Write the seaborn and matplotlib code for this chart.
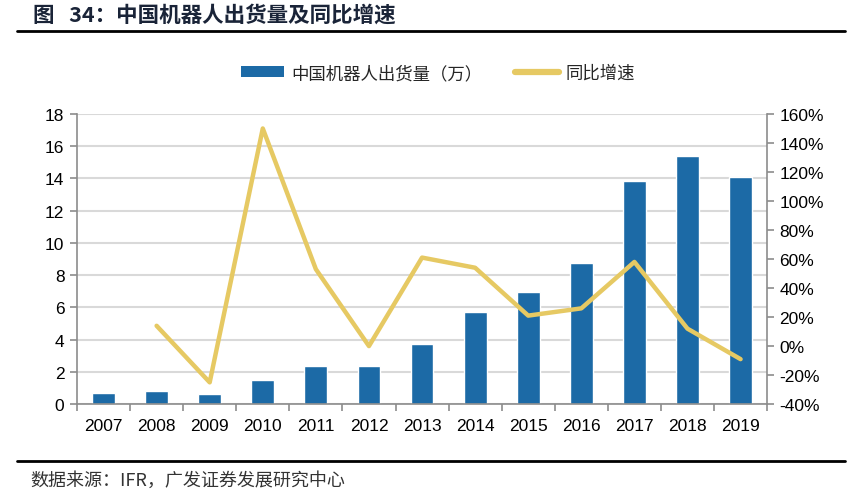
import numpy as np
import pandas as pd
import matplotlib
matplotlib.use("Agg")
import matplotlib.pyplot as plt
import seaborn as sns
from matplotlib.lines import Line2D
from matplotlib.patches import Patch
from matplotlib.ticker import FuncFormatter, MultipleLocator

# 数据
years = ['2007', '2008', '2009', '2010', '2011', '2012', '2013',
         '2014', '2015', '2016', '2017', '2018', '2019']
shipments = [0.70, 0.79, 0.62, 1.51, 2.34, 2.34, 3.72,
             5.73, 6.93, 8.73, 13.84, 15.41, 14.09]
growth_years = years[1:]
growth = [14, -25, 150, 53, 0, 61, 54, 21, 26, 58, 12, -9]

bar_color = '#1C6AA6'
line_color = '#E6C963'
grid_color = '#D9D9D9'
spine_color = '#8C8C8C'

sns.set_theme(style='white')
plt.rcParams['font.family'] = ['Liberation Sans', 'Noto Sans CJK SC', 'DejaVu Sans']
cjk = ['Noto Sans CJK SC', 'DejaVu Sans']

fig = plt.figure(figsize=(8.6, 5.02), dpi=100)
ax = fig.add_axes([0.0895, 0.193, 0.8025, 0.578])

df = pd.DataFrame({'year': years, 'shipments': shipments})
sns.barplot(data=df, x='year', y='shipments', color=bar_color, width=0.43,
            saturation=1, ax=ax)
ax.set_xlim(-0.5, len(years) - 0.5)
ax.set_ylim(0, 18)
ax.yaxis.set_major_locator(MultipleLocator(2))
ax.set_xlabel('')
ax.set_ylabel('')
ax.grid(axis='y', color=grid_color, linewidth=1.5)
ax.set_axisbelow(True)

ax2 = ax.twinx()
gdf = pd.DataFrame({'pos': [years.index(y) for y in growth_years],
                    'growth': growth})
sns.lineplot(data=gdf, x='pos', y='growth', color=line_color, linewidth=3.2,
             ax=ax2)
ax2.set_ylim(-40, 160)
ax2.yaxis.set_major_locator(MultipleLocator(20))
ax2.yaxis.set_major_formatter(FuncFormatter(lambda v, p: f'{v:.0f}%'))
ax2.set_xlim(-0.5, len(years) - 0.5)
ax2.set_xlabel('')
ax2.set_ylabel('')
ax2.grid(False)

for a in (ax, ax2):
    for s in a.spines.values():
        s.set_visible(False)
ax.spines['left'].set_visible(True)
ax.spines['bottom'].set_visible(True)
ax2.spines['right'].set_visible(True)
for s in (ax.spines['left'], ax.spines['bottom'], ax2.spines['right']):
    s.set_color(spine_color)
    s.set_linewidth(1.2)

# x 轴刻度在类别之间
ax.set_xticks(np.arange(len(years)))
ax.set_xticklabels(years)
ax.set_xticks(np.arange(len(years) + 1) - 0.5, minor=True)
ax.tick_params(axis='x', which='major', length=0, pad=10, labelsize=12.5,
               colors='black')
ax.tick_params(axis='x', which='minor', length=5, width=1.2, color=spine_color,
               bottom=True)
ax.tick_params(axis='y', length=5, width=1.2, color=spine_color, pad=4,
               labelsize=12.5, labelcolor='black', left=True)
ax2.tick_params(axis='y', length=5, width=1.2, color=spine_color, pad=4,
                labelsize=12.5, labelcolor='black', right=True)

# 图例
handles = [Patch(facecolor=bar_color, edgecolor='none'),
           Line2D([0], [0], color=line_color, linewidth=4.5,
                  solid_capstyle='round')]
leg = fig.legend(handles, ['中国机器人出货量（万）', '同比增速'], ncol=2,
                 loc='center', bbox_to_anchor=(438 / 860, 1 - 74 / 502),
                 frameon=False, prop={'family': cjk, 'size': 12.5},
                 handlelength=2.5, handleheight=0.6, handletextpad=0.4,
                 columnspacing=1.9)

# 标题与来源
fig.text(33 / 860, 1 - 15 / 502, '图   34：中国机器人出货量及同比增速',
         family=cjk, fontsize=15.5, fontweight='bold', color='#1A2438',
         va='center', ha='left')
fig.add_artist(Line2D([17 / 860, 845 / 860], [1 - 32 / 502, 1 - 32 / 502],
                      color='black', linewidth=2))
fig.add_artist(Line2D([17 / 860, 845 / 860], [1 - 462 / 502, 1 - 462 / 502],
                      color='black', linewidth=2))
fig.text(30 / 860, 1 - 481 / 502, '数据来源：IFR，广发证券发展研究中心',
         family=cjk, fontsize=13, color='#333333', va='center', ha='left')

fig.savefig('out.png', dpi=100)
